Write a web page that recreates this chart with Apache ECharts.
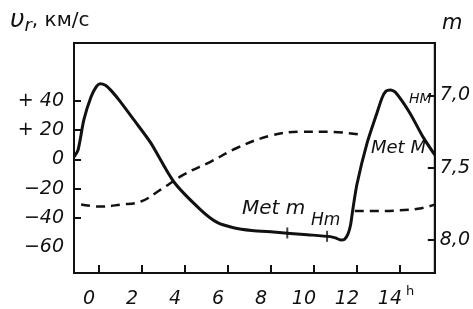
<!DOCTYPE html>
<html>
<head>
<meta charset="utf-8">
<script src="https://cdn.jsdelivr.net/npm/echarts@6/dist/echarts.min.js"></script>
<style>
  html, body { margin: 0; padding: 0; background: #fff; }
  #chart { width: 473px; height: 309px; }
</style>
</head>
<body>
<div id="chart"></div>
<script>
'use strict';
// лучевая скорость (сплошная линия), часы / км/с
var vrHours = [-1.16, -0.97, -0.7, -0.37, -0.12, 0.05, 0.3, 0.56, 0.93, 1.62, 2.41, 3.48, 4.73, 5.52, 6.26, 7.1, 8.11, 9.69, 10.76, 11.0, 11.25, 11.42, 11.58, 11.7, 11.8, 12.0, 12.47, 12.93, 13.17, 13.35, 13.55, 13.8, 14.46, 15.07, 15.62];
var vrValues = [1.7, 6.5, 27, 42.5, 49.5, 51.5, 50.5, 47, 40.5, 27, 11.2, -15.3, -34.4, -43.2, -46.6, -48.5, -49.6, -51.4, -52.7, -53.6, -55, -54.6, -51, -45, -35, -17, 11, 31.6, 42, 46.5, 47.3, 45.5, 31.6, 15.3, 3];
// блеск (штриховая линия), два отрезка
var magHours1 = [-0.83, 0.09, 1.02, 1.95, 2.87, 3.94, 5.19, 6.44, 7.97, 9.36, 10.76, 12.15];
var magValues1 = [7.755, 7.769, 7.755, 7.734, 7.652, 7.548, 7.459, 7.362, 7.279, 7.252, 7.252, 7.272];
var magHours2 = [11.9, 13.0, 14.0, 15.0, 15.62];
var magValues2 = [7.80, 7.80, 7.795, 7.78, 7.755];
// отметки на кривой
var markHours = [8.76, 10.61];
var markValues = [-50.2, -52.5];

var hourTicks = [0, 2, 4, 6, 8, 10, 12, 14];
var vrTicks = [-40, -20, 0, 20, 40];
var vrLabels = [-60, -40, -20, 0, 20, 40];
var magTicks = [7, 7.5, 8];

function pairs(xs, ys) {
	var out = [];
	for (var i = 0; i < xs.length; i++) {
		out.push([xs[i], ys[i]]);
	}
	return out;
}

var FONT = 'DejaVu Sans';
var chart = echarts.init(document.getElementById('chart'));
var option = {
	backgroundColor: '#fff',
	animation: false,
	grid: {
		show: true,
		left: 74, right: 38, top: 43, bottom: 35,
		borderColor: '#111', borderWidth: 2
	},
	xAxis: {
		type: 'value',
		min: -1.16, max: 15.62,
		splitLine: { show: false },
		axisLine: { show: true, onZero: false, lineStyle: { color: '#111', width: 2 } },
		axisTick: { show: true, inside: true, length: 8, customValues: hourTicks, lineStyle: { color: '#111', width: 2 } },
		axisLabel: {
			customValues: hourTicks,
			margin: 17,
			padding: [0, 20, 0, 0],
			fontFamily: FONT, fontStyle: 'italic', fontSize: 19, color: '#111'
		}
	},
	yAxis: [
		{
			type: 'value',
			min: -77.5, max: 79.3,
			splitLine: { show: false },
			axisLine: { show: true, onZero: false, lineStyle: { color: '#111', width: 2 } },
			axisTick: { show: true, inside: true, length: 7, customValues: vrTicks, lineStyle: { color: '#111', width: 2 } },
			axisLabel: {
				customValues: vrLabels,
				margin: 10,
				fontFamily: FONT, fontStyle: 'italic', fontSize: 19, color: '#111',
				formatter: function (v) {
					if (v > 0) return '+ ' + v;
					if (v < 0) return '\u2212' + (-v);
					return '0';
				}
			}
		},
		{
			type: 'value',
			position: 'right',
			inverse: true,
			min: 6.638, max: 8.228,
			splitLine: { show: false },
			axisLine: { show: true, onZero: false, lineStyle: { color: '#111', width: 2 } },
			axisTick: { show: true, inside: true, length: 7, customValues: magTicks, lineStyle: { color: '#111', width: 2 } },
			axisLabel: {
				customValues: magTicks,
				margin: 5,
				fontFamily: FONT, fontStyle: 'italic', fontSize: 19, color: '#111',
				formatter: function (v) { return v.toFixed(1).replace('.', ','); }
			}
		}
	],
	series: [
		{
			name: 'vr',
			type: 'line',
			data: pairs(vrHours, vrValues),
			smooth: 0.25,
			showSymbol: false,
			lineStyle: { color: '#111', width: 3 }
		},
		{
			name: 'm1',
			type: 'line',
			yAxisIndex: 1,
			data: pairs(magHours1, magValues1),
			smooth: 0.4,
			showSymbol: false,
			lineStyle: { color: '#111', width: 2.5, type: [9, 6] }
		},
		{
			name: 'm2',
			type: 'line',
			yAxisIndex: 1,
			data: pairs(magHours2, magValues2),
			smooth: 0.4,
			showSymbol: false,
			lineStyle: { color: '#111', width: 2.5, type: [9, 6] }
		},
		{
			name: 'marks',
			type: 'scatter',
			data: pairs(markHours, markValues),
			symbol: 'rect',
			symbolSize: [2, 11],
			itemStyle: { color: '#111' }
		}
	],
	graphic: [
		{
			type: 'text', left: 10, top: 8,
			style: {
				text: '{v|\u03c5}{s|r}{t|, \u043a\u043c/\u0441}',
				rich: {
					v: { fontFamily: FONT, fontStyle: 'italic', fontSize: 25, fill: '#111' },
					s: { fontFamily: FONT, fontStyle: 'italic', fontSize: 18, fill: '#111', padding: [12, 0, 0, 0] },
					t: { fontFamily: FONT, fontSize: 20, fill: '#111' }
				}
			}
		},
		{ type: 'text', left: 442, top: 13, style: { text: 'm', fontFamily: FONT, fontStyle: 'italic', fontSize: 21, fill: '#111' } },
		{ type: 'text', left: 406, top: 285, style: { text: 'h', fontFamily: FONT, fontSize: 13, fill: '#111' } },
		{ type: 'text', left: 242, top: 199, style: { text: 'Met m', fontFamily: FONT, fontStyle: 'italic', fontSize: 20, fill: '#111' } },
		{ type: 'text', left: 311, top: 212, style: { text: 'Hm', fontFamily: FONT, fontStyle: 'italic', fontSize: 17, fill: '#111' } },
		{ type: 'text', left: 409, top: 92, style: { text: 'HM', fontFamily: FONT, fontStyle: 'italic', fontSize: 14, fill: '#111' } },
		{ type: 'text', left: 371, top: 139, style: { text: 'Met M', fontFamily: FONT, fontStyle: 'italic', fontSize: 18, fill: '#111' } }
	]
};
chart.setOption(option);
</script>
</body>
</html>
